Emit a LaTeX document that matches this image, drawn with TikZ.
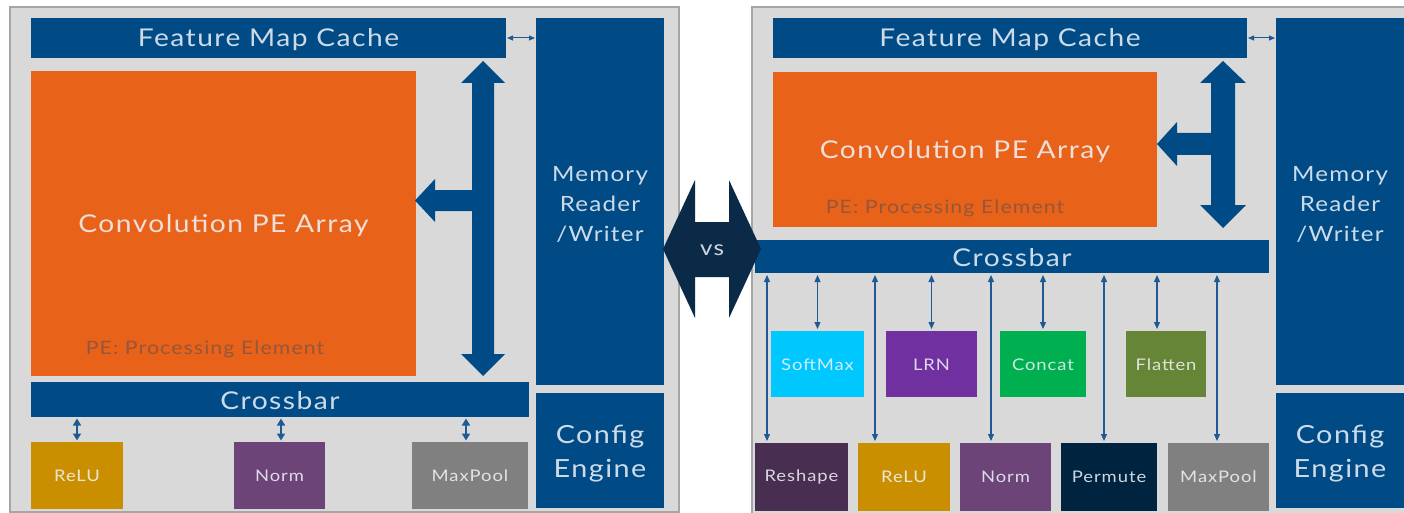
\documentclass[tikz,border=0pt]{standalone}
\usepackage{fontspec}
\setmainfont{Lato}[FakeStretch=1.15, LetterSpace=6]
\usetikzlibrary{arrows.meta,calc}
\definecolor{ibl}{HTML}{004A86}
\definecolor{arrbl}{HTML}{1F5A94}
\definecolor{panelfill}{HTML}{D9D9D9}
\definecolor{panelline}{HTML}{A6A6A6}
\definecolor{convor}{HTML}{E8621A}
\definecolor{petxt}{HTML}{95573A}
\definecolor{txt}{HTML}{F2F5FA}
\definecolor{vsnavy}{HTML}{0B2A48}
\definecolor{crelu}{HTML}{C98F00}
\definecolor{cnorm}{HTML}{6C4478}
\definecolor{cpool}{HTML}{808080}
\definecolor{csoft}{HTML}{00C7FD}
\definecolor{clrn}{HTML}{7030A0}
\definecolor{cconcat}{HTML}{00B050}
\definecolor{cflat}{HTML}{668536}
\definecolor{creshape}{HTML}{482E50}
\definecolor{cperm}{HTML}{00233F}
\newcommand\fbig{\fontsize{24.5}{30}\selectfont}
\newcommand\fmem{\fontsize{21}{30}\selectfont}
\newcommand\fcfg{\fontsize{25}{34}\selectfont}
\newcommand\fpe{\fontsize{18.5}{22}\selectfont}
\newcommand\fsm{\fontsize{16}{20}\selectfont}
\newcommand\fvs{\fontsize{21}{24}\selectfont}
\begin{document}
\begin{tikzpicture}[x=1pt,y=-1pt,
  blk/.style={draw=none, inner sep=0pt, outer sep=0pt, anchor=north west},
  lbl/.style={inner sep=0pt, text=txt, text opacity=0.85, align=center},
  tarr/.style={draw=arrbl, line width=1.1pt, {Triangle[width=6pt,length=7pt]}-{Triangle[width=6pt,length=7pt]}, shorten <=2pt, shorten >=2pt},
  sarr/.style={draw=arrbl, line width=1.6pt, {Triangle[width=8pt,length=7pt]}-{Triangle[width=8pt,length=7pt]}, shorten <=1.5pt, shorten >=1.5pt},
  harr/.style={draw=arrbl, line width=1pt, {Triangle[width=5pt,length=6pt]}-{Triangle[width=5pt,length=6pt]}, shorten <=1pt, shorten >=1pt},
  pelbl/.style={inner sep=0pt, text=petxt, font=\fpe},
]
\useasboundingbox (0,0) rectangle (1404,513);
\fill[white] (0,0) rectangle (1404,513);

% ---------------- left panel ----------------
\path[fill=panelfill, draw=panelline, line width=1.5pt] (10,7) rectangle (679,512);
\node[blk, fill=ibl, minimum width=475pt, minimum height=40pt] (fmcL) at (31,18) {};
\node[lbl, font=\fbig] (fmcLt) at ([yshift=-2pt]fmcL.center) {Feature Map Cache};
\node[blk, fill=ibl, minimum width=128pt, minimum height=367pt] (memL) at (536,18) {};
\node[lbl, font=\fmem] (memLt) at ([yshift=-3pt]memL.center) {Memory\\Reader\\/Writer};
\node[blk, fill=ibl, minimum width=128pt, minimum height=115pt] (cfgL) at (536,393) {};
\node[lbl, font=\fcfg] (cfgLt) at ([yshift=-3pt]cfgL.center) {Config\\Engine};
\node[blk, fill=convor, minimum width=385pt, minimum height=305pt] (convL) at (31,71) {};
\node[lbl, font=\fbig] (convLt) at ([yshift=-2pt]convL.center) {Convolution PE Array};
\node[pelbl] (peL) at (205,349) {PE: Processing Element};
\node[blk, fill=ibl, minimum width=498pt, minimum height=35pt] (xbarL) at (31,382) {};
\node[lbl, font=\fbig] (xbarLt) at ([yshift=-1.5pt]xbarL.center) {Crossbar};
\node[blk, fill=crelu, minimum width=92pt, minimum height=67pt] (reluL) at (31,442) {};
\node[lbl, font=\fsm] (reluLt) at (reluL.center) {ReLU};
\node[blk, fill=cnorm, minimum width=91pt, minimum height=67pt] (normL) at (234,442) {};
\node[lbl, font=\fsm] (normLt) at (normL.center) {Norm};
\node[blk, fill=cpool, minimum width=116pt, minimum height=67pt] (poolL) at (412,442) {};
\node[lbl, font=\fsm] (poolLt) at (poolL.center) {MaxPool};

\fill[ibl] (483,61) -- (505,83) -- (494,83) -- (494,354) -- (505,354) -- (483,376) -- (461,354) -- (472,354)
  -- (472,211) -- (435,211) -- (435,222) -- (415,200.5) -- (435,179) -- (435,190) -- (472,190)
  -- (472,83) -- (461,83) -- cycle;

\draw[harr] (fmcL.east) -- (memL.west |- fmcL.east);
\draw[sarr] (xbarL.south -| reluL.north) -- (reluL.north);
\coordinate (ln) at (281,0);
\coordinate (lp) at (466,0);
\draw[sarr] (xbarL.south -| ln) -- (normL.north -| ln);
\draw[sarr] (xbarL.south -| lp) -- (poolL.north -| lp);

% ---------------- right panel ----------------
\path[fill=panelfill, draw=panelline, line width=1.5pt] (752,7) rectangle (1420,530);
\node[blk, fill=ibl, minimum width=474pt, minimum height=40pt] (fmcR) at (773,18) {};
\node[lbl, font=\fbig] (fmcRt) at ([yshift=-2pt]fmcR.center) {Feature Map Cache};
\node[blk, fill=ibl, minimum width=128pt, minimum height=367pt] (memR) at (1276,18) {};
\node[lbl, font=\fmem] (memRt) at ([yshift=-3pt]memR.center) {Memory\\Reader\\/Writer};
\node[blk, fill=ibl, minimum width=128pt, minimum height=115pt] (cfgR) at (1276,393) {};
\node[lbl, font=\fcfg] (cfgRt) at ([yshift=-3pt]cfgR.center) {Config\\Engine};
\node[blk, fill=convor, minimum width=384pt, minimum height=155pt] (convR) at (773,72) {};
\node[lbl, font=\fbig] (convRt) at ([yshift=-2pt]convR.center) {Convolution PE Array};
\node[pelbl] (peR) at (945,208) {PE: Processing Element};
\node[blk, fill=ibl, minimum width=514pt, minimum height=33pt] (xbarR) at (755,240) {};
\node[lbl, font=\fbig] (xbarRt) at ([yshift=-1.5pt]xbarR.center) {Crossbar};

\node[blk, fill=csoft, minimum width=93pt, minimum height=66pt] (soft) at (771,331) {};
\node[lbl, font=\fsm] (softt) at ([yshift=-1pt]soft.center) {SoftMax};
\node[blk, fill=clrn, minimum width=91pt, minimum height=66pt] (lrn) at (886,331) {};
\node[lbl, font=\fsm] (lrnt) at ([yshift=-1pt]lrn.center) {LRN};
\node[blk, fill=cconcat, minimum width=86pt, minimum height=66pt] (concat) at (1000,331) {};
\node[lbl, font=\fsm] (concatt) at ([yshift=-1pt]concat.center) {Concat};
\node[blk, fill=cflat, minimum width=80pt, minimum height=66pt] (flat) at (1126,331) {};
\node[lbl, font=\fsm] (flatt) at ([yshift=-1pt]flat.center) {Flatten};

\node[blk, fill=creshape, minimum width=93pt, minimum height=68pt] (reshape) at (755,443) {};
\node[lbl, font=\fsm] (reshapet) at (reshape.center) {Reshape};
\node[blk, fill=crelu, minimum width=92pt, minimum height=68pt] (reluR) at (858,443) {};
\node[lbl, font=\fsm] (reluRt) at (reluR.center) {ReLU};
\node[blk, fill=cnorm, minimum width=91pt, minimum height=68pt] (normR) at (960,443) {};
\node[lbl, font=\fsm] (normRt) at (normR.center) {Norm};
\node[blk, fill=cperm, minimum width=96pt, minimum height=68pt] (perm) at (1061,443) {};
\node[lbl, font=\fsm] (permt) at (perm.center) {Permute};
\node[blk, fill=cpool, minimum width=101pt, minimum height=68pt] (poolR) at (1168,443) {};
\node[lbl, font=\fsm] (poolRt) at (poolR.center) {MaxPool};

\fill[ibl] (1223,61) -- (1246,83) -- (1235,83) -- (1235,205) -- (1246,205) -- (1223,228) -- (1200,205) -- (1211,205)
  -- (1211,155) -- (1177,155) -- (1177,166) -- (1157,144) -- (1177,122) -- (1177,133) -- (1211,133)
  -- (1211,83) -- (1200,83) -- cycle;

\draw[harr] (fmcR.east) -- (memR.west |- fmcR.east);

\coordinate (a1) at (767,0);
\coordinate (a2) at (875,0);
\coordinate (a3) at (991,0);
\coordinate (a4) at (1104,0);
\coordinate (a5) at (1217,0);
\draw[tarr] (xbarR.south -| a1) -- (reshape.north -| a1);
\draw[tarr] (xbarR.south -| a2) -- (reluR.north -| a2);
\draw[tarr] (xbarR.south -| a3) -- (normR.north -| a3);
\draw[tarr] (xbarR.south -| a4) -- (perm.north -| a4);
\draw[tarr] (xbarR.south -| a5) -- (poolR.north -| a5);
\coordinate (b4) at (1157,0);
\draw[tarr] (xbarR.south -| soft.north) -- (soft.north);
\draw[tarr] (xbarR.south -| lrn.north) -- (lrn.north);
\draw[tarr] (xbarR.south -| concat.north) -- (concat.north);
\draw[tarr] (xbarR.south -| b4) -- (flat.north -| b4);

% ---------------- vs ----------------
\fill[vsnavy] (663,249) -- (695,180) -- (695,222) -- (729,222) -- (729,180) -- (761,249)
  -- (729,318) -- (729,277) -- (695,277) -- (695,318) -- cycle;
\node[lbl, font=\fvs] (vs) at (712,250) {vs};
\end{tikzpicture}
\end{document}
